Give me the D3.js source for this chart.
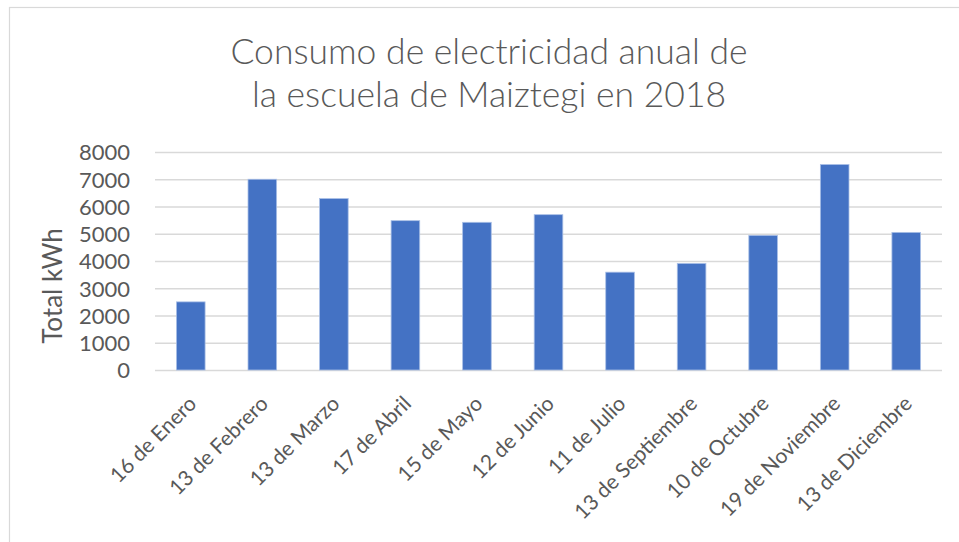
<!DOCTYPE html>
<html><head><meta charset="utf-8">
<script src="https://cdn.jsdelivr.net/npm/d3@7"></script>
<style>body{margin:0;background:#fff}svg{display:block}</style>
</head><body><svg id="c" width="959" height="542"></svg>
<script>
const categories = ["16 de Enero","13 de Febrero","13 de Marzo","17 de Abril","15 de Mayo","12 de Junio","11 de Julio","13 de Septiembre","10 de Octubre","19 de Noviembre","13 de Diciembre"];
const values = [2500,7000,6290,5480,5420,5700,3590,3910,4940,7540,5050];
const yTicks = [0,1000,2000,3000,4000,5000,6000,7000,8000];
const titleLines = ["Consumo de electricidad anual de","la escuela de Maiztegi en 2018"];
const yTitle = "Total kWh";

const svg = d3.select("#c");
const font = "Lato, 'Open Sans', sans-serif";
const txt = "#595959";

// frame
svg.append("rect").attr("x",9.5).attr("y",7.5).attr("width",980).attr("height",560)
  .attr("fill","#fff").attr("stroke","#d9d9d9").attr("stroke-width",1.2);

const m = {left:155, right:942, top:152, bottom:370};
const x = d3.scaleBand().domain(categories).range([m.left,m.right]).paddingInner(0.6).paddingOuter(0.3);
const y = d3.scaleLinear().domain([0,8000]).range([m.bottom,m.top]);

// gridlines
const ya = d3.axisLeft(y).tickValues(yTicks).tickSize(-(m.right-m.left)).tickFormat(d=>d).tickPadding(25);
const gy = svg.append("g").attr("transform",`translate(${m.left},0)`).call(ya);
gy.select(".domain").remove();
gy.selectAll(".tick line").attr("stroke","#d9d9d9").attr("stroke-width",1.5);
gy.selectAll(".tick text").attr("fill",txt).attr("font-family",font).attr("font-size",22).attr("dy","0.36em");

// bars
svg.append("g").selectAll("rect").data(values).join("rect")
  .attr("x",(d,i)=>x(categories[i])).attr("width",x.bandwidth())
  .attr("y",d=>y(d)).attr("height",d=>y(0)-y(d))
  .attr("fill","#4472c4").attr("stroke","#a9bfe6").attr("stroke-width",0.8);

// x labels
const xa = d3.axisBottom(x).tickSize(0).tickPadding(0);
const gx = svg.append("g").attr("transform",`translate(0,${m.bottom})`).call(xa);
gx.select(".domain").remove();
gx.selectAll(".tick text").attr("fill",txt).attr("font-family",font).attr("font-size",21)
  .attr("text-anchor","end").attr("dy",0).attr("y",0)
  .attr("transform","translate(7,35) rotate(-45)");

// y title
svg.append("text").attr("transform","translate(62,286) rotate(-90)").attr("text-anchor","middle")
  .attr("fill",txt).attr("font-family",font).attr("font-size",26).text(yTitle);

// title
svg.append("g").selectAll("text").data(titleLines).join("text")
  .attr("x",489).attr("y",(d,i)=>64+i*43).attr("text-anchor","middle")
  .attr("fill",txt).attr("font-family",font).attr("font-weight",300).attr("font-size",35.5).text(d=>d);
</script></body></html>
